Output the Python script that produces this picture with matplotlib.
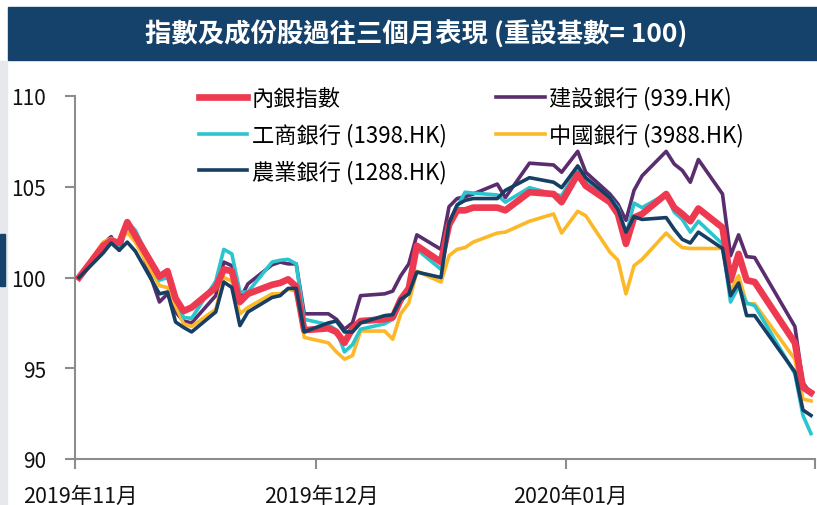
import matplotlib
matplotlib.use("Agg")
import matplotlib.pyplot as plt
from matplotlib.patches import Rectangle
from matplotlib.transforms import ScaledTranslation
import pandas as pd

plt.rcParams['font.family'] = ['Noto Sans CJK TC', 'DejaVu Sans']

title = "指數及成份股過往三個月表現 (重設基數= 100)"
month_labels = ["2019年11月", "2019年12月", "2020年01月", ""]
month_ticks = ["2019-11-01", "2019-12-01", "2020-01-01", "2020-02-01"]

dates = [
    "2019-11-01", "2019-11-04", "2019-11-05", "2019-11-06", "2019-11-07", "2019-11-08",
    "2019-11-11", "2019-11-12", "2019-11-13", "2019-11-14", "2019-11-15",
    "2019-11-18", "2019-11-19", "2019-11-20", "2019-11-21", "2019-11-22",
    "2019-11-25", "2019-11-26", "2019-11-27", "2019-11-28", "2019-11-29",
    "2019-12-02", "2019-12-03", "2019-12-04", "2019-12-05", "2019-12-06",
    "2019-12-09", "2019-12-10", "2019-12-11", "2019-12-12", "2019-12-13",
    "2019-12-16", "2019-12-17", "2019-12-18", "2019-12-19", "2019-12-20",
    "2019-12-23", "2019-12-24", "2019-12-27", "2019-12-30", "2019-12-31",
    "2020-01-02", "2020-01-03", "2020-01-06", "2020-01-07", "2020-01-08",
    "2020-01-09", "2020-01-10", "2020-01-13", "2020-01-14", "2020-01-15",
    "2020-01-16", "2020-01-17", "2020-01-20", "2020-01-21", "2020-01-22",
    "2020-01-23", "2020-01-24", "2020-01-29", "2020-01-30", "2020-01-31",
]

bank_index = [
    100.0, 101.75, 102.03, 101.9, 103.05, 102.3, 100.05, 100.35, 98.85, 98.15, 98.35,
    99.45, 100.45, 100.35, 98.65, 99.1, 99.6, 99.7, 99.9, 99.5, 97.1,
    97.2, 97.0, 96.4, 97.2, 97.6, 97.7, 97.8, 98.8, 99.4, 101.75,
    100.85, 102.9, 103.7, 103.7, 103.85, 103.85, 103.7, 104.7, 104.6, 104.15,
    105.7, 105.05, 104.15, 103.5, 101.85, 103.3, 103.5, 104.6, 103.85, 103.5,
    103.1, 103.8, 102.75, 99.85, 101.3, 99.85, 99.75, 96.4, 93.95, 93.65,
]
ccb = [
    100.0, 101.85, 102.25, 101.5, 102.9, 102.5, 98.65, 99.1, 98.1, 97.6, 97.5,
    99.0, 100.85, 100.65, 98.8, 99.65, 100.7, 100.85, 100.75, 100.75, 98.0,
    98.0, 97.7, 97.15, 97.5, 99.0, 99.1, 99.25, 100.1, 100.75, 102.35,
    101.55, 103.9, 104.35, 104.45, 104.6, 105.15, 104.4, 106.3, 106.2, 105.8,
    106.95, 105.8, 104.6, 104.05, 103.15, 104.8, 105.6, 106.95, 106.25, 105.9,
    105.25, 106.5, 104.6, 101.2, 102.35, 101.15, 101.1, 97.3, 94.2, 93.6,
]
icbc = [
    100.0, 101.8, 101.95, 101.75, 103.07, 102.6, 99.85, 100.0, 98.85, 97.8, 97.75,
    99.8, 101.55, 101.3, 99.2, 99.2, 100.85, 100.95, 101.0, 100.75, 97.7,
    97.4, 97.1, 95.9, 96.3, 97.15, 97.45, 97.7, 98.65, 99.2, 101.55,
    100.45, 103.0, 103.9, 104.7, 104.65, 104.55, 104.15, 104.95, 104.6, 104.5,
    106.0, 105.4, 104.4, 103.85, 102.3, 104.1, 103.85, 104.6, 103.6, 103.2,
    102.5, 103.1, 101.85, 98.65, 99.5, 98.6, 98.45, 94.7, 92.4, 91.4,
]
boc = [
    100.0, 101.95, 102.15, 101.95, 102.5, 101.95, 99.55, 99.45, 98.45, 97.45, 97.3,
    98.25, 100.0, 99.8, 98.0, 98.35, 99.1, 99.1, 99.35, 99.25, 96.7,
    96.4, 95.9, 95.5, 95.7, 97.05, 97.05, 96.6, 98.0, 98.6, 100.35,
    99.75, 101.2, 101.55, 101.65, 101.95, 102.45, 102.5, 103.1, 103.5, 102.45,
    103.65, 103.4, 101.4, 100.95, 99.1, 100.65, 101.0, 102.45, 102.0, 101.65,
    101.6, 101.6, 101.6, 99.25, 100.1, 98.55, 98.55, 95.5, 93.3, 93.2,
]
abc = [
    100.0, 101.35, 101.9, 101.5, 101.95, 101.45, 99.1, 99.2, 97.55, 97.25, 97.0,
    98.1, 99.75, 99.45, 97.35, 98.1, 98.9, 99.0, 99.4, 99.4, 97.0,
    97.5, 97.6, 97.0, 97.0, 97.5, 97.9, 97.95, 98.8, 99.1, 100.3,
    100.0, 103.0, 104.0, 104.25, 104.35, 104.35, 104.8, 105.5, 105.25, 104.95,
    106.15, 105.5, 104.4, 103.75, 102.5, 103.35, 103.2, 103.3, 102.65, 102.1,
    101.9, 102.5, 101.6, 99.0, 99.7, 97.9, 97.9, 94.8, 92.7, 92.4,
]

# Excel date axis puts each point in the middle of its day slot
x = pd.to_datetime(dates) + pd.Timedelta(hours=12)

fig = plt.figure(figsize=(8.17, 5.06), dpi=100)

# title banner
fig.patches.append(Rectangle((8 / 817, 1 - 61 / 506), 1, 53 / 506,
                             transform=fig.transFigure, color="#15426B", zorder=0))
fig.text(0.509, 1 - 35 / 506, title, color="white", fontsize=19, fontweight="bold",
         ha="center", va="center")

# left screenshot strip
fig.patches.append(Rectangle((0, 0), 7 / 817, 1 - 62 / 506,
                             transform=fig.transFigure, color="#E6E8EB", zorder=0))
fig.patches.append(Rectangle((0, 1 - 287 / 506), 5 / 817, 52 / 506,
                             transform=fig.transFigure, color="#15426B", zorder=0))

ax = fig.add_axes([75 / 817, 46 / 506, 740 / 817, 363 / 506])

ax.plot(x, bank_index, color="#EE3A50", lw=4.8, label="內銀指數", zorder=3)
ax.plot(x, icbc, color="#2BC5D0", lw=2.6, label="工商銀行 (1398.HK)", zorder=2)
ax.plot(x, abc, color="#173F63", lw=2.6, label="農業銀行 (1288.HK)", zorder=4)
ax.plot(x, ccb, color="#5A2D6E", lw=2.6, label="建設銀行 (939.HK)", zorder=1)
ax.plot(x, boc, color="#FDB828", lw=2.6, label="中國銀行 (3988.HK)", zorder=1)

ax.set_ylim(90, 110)
ax.set_yticks([90, 95, 100, 105, 110])
ax.set_xlim(pd.Timestamp("2019-11-01"), pd.Timestamp("2020-02-01"))
ax.set_xticks(pd.to_datetime(month_ticks))
ax.set_xticklabels(month_labels)

for side in ["top", "right"]:
    ax.spines[side].set_visible(False)
for side in ["left", "bottom"]:
    ax.spines[side].set_color("#8C8C8C")
    ax.spines[side].set_linewidth(1.5)
ax.tick_params(axis="both", colors="#8C8C8C", width=1.5, length=7, direction="out",
               labelcolor="#111111", labelsize=15)
ax.tick_params(axis="x", labelsize=15.5)
ax.tick_params(axis="y", pad=14)
ax.tick_params(axis="x", pad=12)

# month labels sit a little right of their ticks in the original
shift = ScaledTranslation(5 / 100, 0, fig.dpi_scale_trans)
for lab in ax.get_xticklabels():
    lab.set_transform(lab.get_transform() + shift)

leg = ax.legend(ncol=2, loc="upper left", bbox_to_anchor=(0.140, 1.082), frameon=False,
                fontsize=16, handlelength=2.2, handletextpad=0.2, columnspacing=2.2,
                labelspacing=0.58)

fig.savefig("out.png", dpi=100)
